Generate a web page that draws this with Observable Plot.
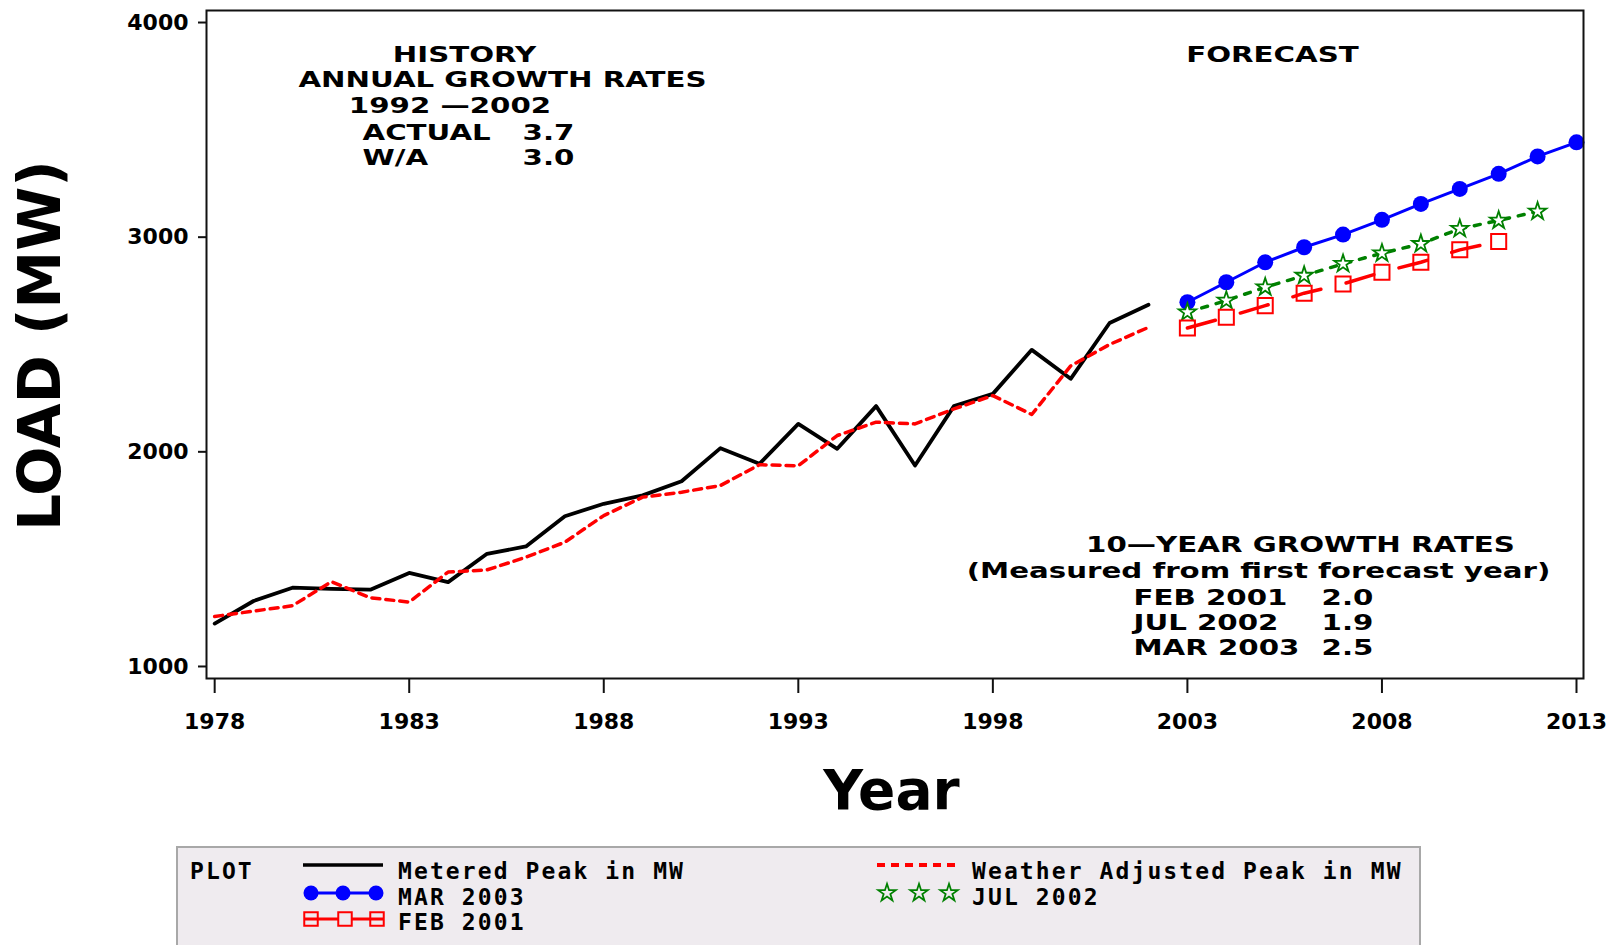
<!DOCTYPE html>
<html><head><meta charset="utf-8">
<script src="https://cdn.jsdelivr.net/npm/d3@7"></script>
<script src="https://cdn.jsdelivr.net/npm/@observablehq/plot@0.6"></script>
<style>
html,body{margin:0;padding:0;background:#fff;overflow:hidden;width:1615px;height:945px;}
#chart svg,#legend svg{display:block;}
</style></head><body>
<div id="chart"></div>
<div id="legend"></div>
<script>
// ---- data ----
const historyYears = [1978,1979,1980,1981,1982,1983,1984,1985,1986,1987,1988,1989,1990,1991,1992,1993,1994,1995,1996,1997,1998,1999,2000,2001,2002];
const meteredPeak = [1200,1305,1367,1362,1358,1436,1393,1525,1559,1700,1758,1797,1863,2017,1944,2130,2014,2213,1936,2213,2270,2475,2340,2600,2685];
const weatherAdjustedPeak = [1233,1258,1283,1395,1320,1300,1440,1450,1509,1579,1703,1789,1812,1843,1940,1935,2076,2138,2130,2200,2262,2174,2400,2500,2580];
const forecastYears = [2003,2004,2005,2006,2007,2008,2009,2010,2011,2012,2013];
const forecastMar2003 = [2697,2790,2883,2953,3012,3081,3155,3225,3295,3376,3442];
const forecastJul2002 = [2650,2705,2767,2821,2876,2925,2969,3039,3078,3120];
const forecastFeb2001 = [2577,2627,2681,2739,2782,2837,2883,2941,2980];
const xTicks = [1978,1983,1988,1993,1998,2003,2008,2013];
const yTicks = [1000,2000,3000,4000];
const historyHeader = ["HISTORY","ANNUAL GROWTH RATES","1992 \u20142002"];
const historyRateLabels = ["ACTUAL","W/A"];
const historyRates = ["3.7","3.0"];
const forecastHeader = "FORECAST";
const growthHeader = ["10\u2014YEAR GROWTH RATES","(Measured from first forecast year)"];
const forecastRateLabels = ["FEB 2001","JUL 2002","MAR 2003"];
const forecastRates = ["2.0","1.9","2.5"];
const legendTitle = "PLOT";
const seriesNames = ["Metered Peak in MW","Weather Adjusted Peak in MW","MAR 2003","JUL 2002","FEB 2001"];

// ---- tables ----
const history = historyYears.map((year, i) => ({year, metered: meteredPeak[i], weather: weatherAdjustedPeak[i]}));
const mar = forecastMar2003.map((load, i) => ({year: forecastYears[i], load}));
const jul = forecastJul2002.map((load, i) => ({year: forecastYears[i], load}));
const feb = forecastFeb2001.map((load, i) => ({year: forecastYears[i], load}));

const W = 1615, H = 846;
const fl = 206, fr = 1583, ft = 10, fb = 678;
const RED = "#ff0000", BLUE = "#0000ff", GREEN = "#008000";

const stretched = new Set();
const note = (text, x, y, anchor = "middle") => {
  stretched.add(text);
  return Plot.text([text], {
    frameAnchor: "top-left", dx: x - fl, dy: y - ft, text: d => d,
    textAnchor: anchor, lineAnchor: "middle", fontSize: 22, fontWeight: "bold", fill: "black"
  });
};

const chart = Plot.plot({
  width: W, height: H,
  marginLeft: fl, marginRight: W - fr, marginTop: ft, marginBottom: H - fb,
  x: {domain: [1977.79, 2013.18]},
  y: {domain: [944, 4056]},
  style: {fontFamily: "'DejaVu Sans', sans-serif", fontSize: "22px", fontWeight: "bold", background: "white", color: "black", overflow: "visible"},
  marks: [
    Plot.axisY({ticks: yTicks, tickSize: 8, tickPadding: 10, label: null, tickFormat: d => String(d), strokeWidth: 2, stroke: "#111"}),
    Plot.axisX({ticks: xTicks, tickSize: 15, tickPadding: 20, label: null, tickFormat: d => String(d), strokeWidth: 2, stroke: "#111"}),
    Plot.line(history, {x: "year", y: "metered", stroke: "black", strokeWidth: 3.8}),
    Plot.line(history, {x: "year", y: "weather", stroke: RED, strokeWidth: 3.5, strokeDasharray: "8,6"}),
    Plot.line(feb, {x: "year", y: "load", stroke: RED, strokeWidth: 3.5, strokeDasharray: "29,26"}),
    Plot.line(jul, {x: "year", y: "load", stroke: GREEN, strokeWidth: 3.5, strokeDasharray: "6,9"}),
    Plot.line(mar, {x: "year", y: "load", stroke: BLUE, strokeWidth: 3}),
    Plot.dot(mar, {x: "year", y: "load", r: 8, fill: BLUE, stroke: "none"}),
    Plot.dot(jul, {x: "year", y: "load", symbol: "star", r: 5.5, fill: "white", stroke: GREEN, strokeWidth: 1.8}),
    Plot.dot(feb, {x: "year", y: "load", symbol: "square", r: 8.5, fill: "none", stroke: RED, strokeWidth: 2}),
    Plot.frame({stroke: "#111", strokeWidth: 2}),
    Plot.text(["LOAD (MW)"], {frameAnchor: "left", textAnchor: "middle", lineAnchor: "middle", dx: -165, dy: 1, rotate: -90, fontSize: 58, fontWeight: "bold", fill: "black"}),
    Plot.text(["Year"], {frameAnchor: "bottom", textAnchor: "middle", lineAnchor: "middle", dx: -3.5, dy: 113, fontSize: 55, fontWeight: "bold", fill: "black"}),
    note(historyHeader[0], 464, 54),
    note(historyHeader[1], 502, 79),
    note(historyHeader[2], 449.5, 105.5),
    note(historyRateLabels[0], 362, 132, "start"),
    note(historyRates[0], 548, 132),
    note(historyRateLabels[1], 362, 157, "start"),
    note(historyRates[1], 548, 157),
    note(forecastHeader, 1272, 54),
    note(growthHeader[0], 1300, 544),
    note(growthHeader[1], 1258, 570),
    note(forecastRateLabels[0], 1133, 597, "start"),
    note(forecastRates[0], 1347, 597),
    note(forecastRateLabels[1], 1133, 622, "start"),
    note(forecastRates[1], 1347, 622),
    note(forecastRateLabels[2], 1133, 647, "start"),
    note(forecastRates[2], 1347, 647)
  ]
});
document.getElementById("chart").appendChild(chart);
// widen the annotation lettering like the original extended face
d3.select(chart).selectAll("text").each(function() {
  if (!stretched.has(this.textContent)) return;
  const w = this.getComputedTextLength();
  if (w > 0) {
    this.setAttribute("textLength", (w * 1.33).toFixed(1));
    this.setAttribute("lengthAdjust", "spacingAndGlyphs");
  }
});

// ---- legend (below the plot) ----
const LH = 99;
const lg = d3.create("svg").attr("width", W).attr("height", LH);
lg.append("rect").attr("x", 177).attr("y", 1).attr("width", 1243).attr("height", 140)
  .attr("fill", "#efebef").attr("stroke", "#a8a8a8").attr("stroke-width", 2);
const ltext = (t, x, y) => lg.append("text").attr("x", x).attr("y", y).text(t)
  .attr("font-family", "'DejaVu Sans Mono', monospace").attr("font-weight", "bold")
  .attr("font-size", 23).attr("letter-spacing", "2.1px").attr("fill", "black");
ltext(legendTitle, 190, 33);
lg.append("line").attr("x1", 303).attr("x2", 383).attr("y1", 19).attr("y2", 19).attr("stroke", "black").attr("stroke-width", 3.5);
ltext(seriesNames[0], 398, 33);
lg.append("line").attr("x1", 305).attr("x2", 381).attr("y1", 47).attr("y2", 47).attr("stroke", BLUE).attr("stroke-width", 3);
[311, 343, 376].forEach(cx => lg.append("circle").attr("cx", cx).attr("cy", 47).attr("r", 7.5).attr("fill", BLUE));
ltext(seriesNames[2], 398, 58.5);
lg.append("line").attr("x1", 304).attr("x2", 383).attr("y1", 73).attr("y2", 73).attr("stroke", RED).attr("stroke-width", 3);
[311, 345, 377].forEach((cx, i) => lg.append("path")
  .attr("d", d3.symbol(d3.symbolSquare, 182)()).attr("transform", `translate(${cx},73)`)
  .attr("fill", i === 1 ? "#efebef" : "none").attr("stroke", RED).attr("stroke-width", 2));
ltext(seriesNames[4], 398, 83.5);
lg.append("line").attr("x1", 877).attr("x2", 957).attr("y1", 19).attr("y2", 19).attr("stroke", RED).attr("stroke-width", 4).attr("stroke-dasharray", "8,6");
ltext(seriesNames[1], 972, 33);
[887, 919, 949].forEach(cx => lg.append("path")
  .attr("d", d3.symbol(d3.symbolStar, 95)()).attr("transform", `translate(${cx},47)`)
  .attr("fill", "none").attr("stroke", GREEN).attr("stroke-width", 1.8));
ltext(seriesNames[3], 972, 58.5);
document.getElementById("legend").appendChild(lg.node());
</script>
</body></html>
